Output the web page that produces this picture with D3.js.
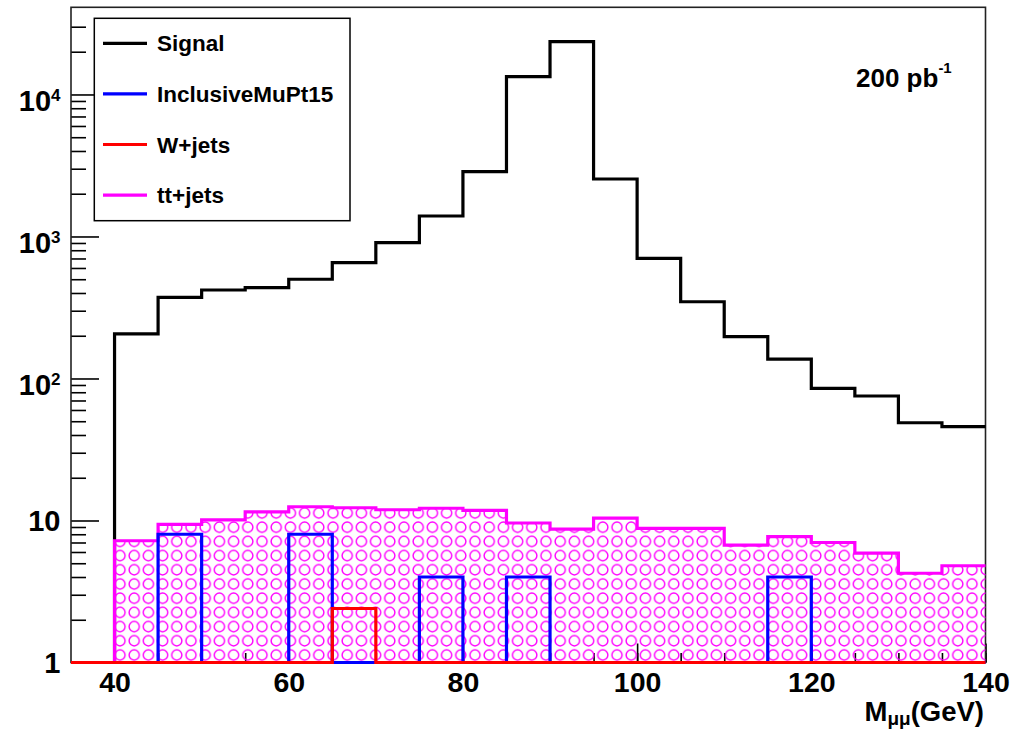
<!DOCTYPE html>
<html>
<head>
<meta charset="utf-8">
<script src="https://cdn.jsdelivr.net/npm/d3@7"></script>
<style>
    body { margin: 0; background: #fff; }
    text { font-family: "Liberation Sans", Arial, Helvetica, sans-serif; font-weight: bold; fill: #000; }
</style>
</head>
<body>
<div id="chart"></div>
<script>
// bin low edges (GeV), 5 GeV bins
var binLow = [35, 40, 45, 50, 55, 60, 65, 70, 75, 80, 85, 90, 95, 100, 105, 110, 115, 120, 125, 130, 135];
var binWidth = 5;

var signal = [0, 206, 373, 420, 436, 500, 654, 904, 1394, 2860, 13340, 23550, 2540, 702, 347, 197, 137, 85.3, 75.3, 48.8, 45.8];
var inclusiveMu = [0, 0, 8, 0, 0, 8, 0, 0, 4, 0, 4, 0, 0, 0, 0, 0, 4, 0, 0, 0, 0];
var wJets = [0, 0, 0, 0, 0, 0, 2.4, 0, 0, 0, 0, 0, 0, 0, 0, 0, 0, 0, 0, 0, 0];
var ttJets = [0, 7.2, 9.4, 10.1, 11.5, 12.5, 12.3, 11.9, 12.2, 11.8, 9.6, 8.7, 10.4, 8.8, 8.8, 6.7, 7.7, 7.0, 5.9, 4.25, 4.8];

var seriesNames = ["Signal", "InclusiveMuPt15", "W+jets", "tt+jets"];
var seriesColors = ["#000000", "#0000ff", "#ff0000", "#ff00ff"];

var xTicks = [40, 60, 80, 100, 120, 140];
var xMinorTicks = [40, 45, 50, 55, 60, 65, 70, 75, 80, 85, 90, 95, 100, 105, 110, 115, 120, 125, 130, 135, 140];
var yTicks = [1, 10, 100, 1000, 10000];
var yTickBase = ["1", "10", "10", "10", "10"];
var yTickExp = ["", "", "2", "3", "4"];

var width = 1011, height = 730;
var frame = {left: 71, right: 985.5, top: 7.3, bottom: 662.5};
var yMin = 1, yMax = 41100;

var svg = d3.select("#chart").append("svg")
    .attr("width", width)
    .attr("height", height);

var xScale = d3.scaleLinear()
    .domain([35, 140])
    .range([frame.left, frame.right]);

var yScale = d3.scaleLog()
    .domain([yMin, yMax])
    .range([frame.bottom, frame.top]);

var yMinor = [];
for (var e = 0; e < 5; e++) {
    for (var m = 2; m <= 9; m++) {
        var v = m * Math.pow(10, e);
        if (v < yMax * 0.95) yMinor.push(v);
    }
}

// circle hatch for tt+jets
var defs = svg.append("defs");
var pat = defs.append("pattern")
    .attr("id", "circles")
    .attr("patternUnits", "userSpaceOnUse")
    .attr("width", 14.2)
    .attr("height", 14.2)
    .attr("x", 112.9)
    .attr("y", 647.9);
pat.append("circle")
    .attr("cx", 7.1)
    .attr("cy", 7.1)
    .attr("r", 5.1)
    .attr("fill", "none")
    .attr("stroke", "#ff00ff")
    .attr("stroke-width", 1.4);

// axes ticks (inside the frame)
svg.append("g")
    .attr("transform", "translate(0," + frame.bottom + ")")
    .call(d3.axisBottom(xScale).tickValues(xMinorTicks).tickSize(-9.5).tickSizeOuter(0).tickFormat(""))
    .call(function(g){ g.select(".domain").remove(); });

svg.append("g")
    .attr("class", "xaxis")
    .attr("transform", "translate(0," + frame.bottom + ")")
    .call(d3.axisBottom(xScale).tickValues(xTicks).tickSize(-19).tickSizeOuter(0).tickPadding(9))
    .call(function(g){ g.select(".domain").remove(); });

svg.selectAll(".xaxis text")
    .attr("font-size", 28.5)
    .attr("font-family", null);

svg.append("g")
    .attr("transform", "translate(" + frame.left + ",0)")
    .call(d3.axisLeft(yScale).tickValues(yMinor).tickSize(-15).tickSizeOuter(0).tickFormat(""))
    .call(function(g){ g.select(".domain").remove(); });

svg.append("g")
    .attr("transform", "translate(" + frame.left + ",0)")
    .call(d3.axisLeft(yScale).tickValues(yTicks).tickSize(-28).tickSizeOuter(0).tickFormat(""))
    .call(function(g){ g.select(".domain").remove(); });

svg.selectAll(".tick line").attr("stroke", "#000").attr("stroke-width", 1.6);

// y labels with superscripts
var yLab = svg.append("g").selectAll("text")
    .data(yTicks)
    .enter().append("text")
    .attr("x", 60.5)
    .attr("y", function(d, i){ return yScale(d) + (yTickExp[i] ? 17 : 10.5); })
    .attr("text-anchor", "end")
    .attr("font-size", 29);
yLab.append("tspan").text(function(d, i){ return yTickBase[i]; });
yLab.append("tspan")
    .attr("font-size", 17)
    .attr("dy", -10.5)
    .text(function(d, i){ return yTickExp[i]; });

// frame
svg.append("rect")
    .attr("x", frame.left)
    .attr("y", frame.top)
    .attr("width", frame.right - frame.left)
    .attr("height", frame.bottom - frame.top)
    .attr("fill", "none")
    .attr("stroke", "#222")
    .attr("stroke-width", 1.6);

function stepPoints(values) {
    var pts = [];
    values.forEach(function(v, i) {
        var yy = yScale(Math.max(v, yMin));
        pts.push([xScale(binLow[i]), yy]);
        pts.push([xScale(binLow[i] + binWidth), yy]);
    });
    return pts;
}

var line = d3.line();
var area = d3.area()
    .x(function(d){ return d[0]; })
    .y0(frame.bottom)
    .y1(function(d){ return d[1]; });

function drawHist(values, color) {
    svg.append("path")
        .attr("d", line(stepPoints(values)))
        .attr("fill", "none")
        .attr("stroke", color)
        .attr("stroke-width", 3.2)
        .attr("stroke-linejoin", "miter")
        .attr("stroke-linecap", "butt");
}

drawHist(signal, seriesColors[0]);

svg.append("path")
    .attr("d", area(stepPoints(ttJets)))
    .attr("fill", "url(#circles)");
drawHist(ttJets, seriesColors[3]);
drawHist(inclusiveMu, seriesColors[1]);
drawHist(wJets, seriesColors[2]);

// legend
var legend = svg.append("g");
legend.append("rect")
    .attr("x", 94.3)
    .attr("y", 18.3)
    .attr("width", 255.7)
    .attr("height", 202.4)
    .attr("fill", "#fff")
    .attr("stroke", "#000")
    .attr("stroke-width", 1.5);

var rows = legend.selectAll(".row")
    .data(seriesNames)
    .enter().append("g")
    .attr("class", "row")
    .attr("transform", function(d, i){ return "translate(0," + (43.3 + i * 50.6) + ")"; });
rows.append("line")
    .attr("x1", 103).attr("x2", 147)
    .attr("stroke", function(d, i){ return seriesColors[i]; })
    .attr("stroke-width", 3.2);
rows.append("text")
    .attr("x", 157)
    .attr("y", 8)
    .attr("font-size", 22.5)
    .text(function(d){ return d; });

// luminosity
var lumi = svg.append("text")
    .attr("x", 856)
    .attr("y", 87)
    .attr("font-size", 26);
lumi.append("tspan").text("200 pb");
lumi.append("tspan").attr("font-size", 15).attr("dy", -14).text("-1");

// x title
var xt = svg.append("text")
    .attr("x", 984)
    .attr("y", 721)
    .attr("text-anchor", "end")
    .attr("font-size", 27.5);
xt.append("tspan").text("M");
xt.append("tspan").attr("font-size", 19).attr("dy", 4).text("μμ");
xt.append("tspan").attr("dy", -4).text("(GeV)");
</script>
</body>
</html>
